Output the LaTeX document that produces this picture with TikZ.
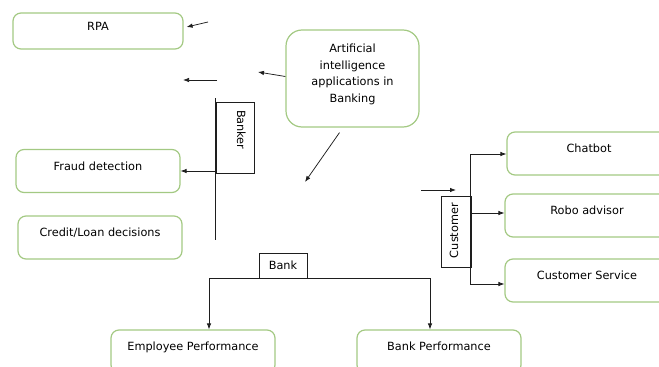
\documentclass[tikz,border=0pt]{standalone}
\usepackage{fontspec}
\setmainfont{DejaVu Sans}
\usetikzlibrary{arrows.meta}
\definecolor{appgreen}{RGB}{163,201,131}
\definecolor{linegray}{RGB}{30,30,30}
\begin{document}
\begin{tikzpicture}[x=1pt, y=-1pt, >={Latex[length=6pt,width=4.5pt]}, line width=0.75pt, draw=linegray,
  every node/.style={font=\fontsize{11.3}{16.5}\selectfont, text=black},
  app node/.style={draw=appgreen, line width=1.2pt, rounded corners=8pt, minimum width=164pt, minimum height=43pt, inner sep=0pt, text height=8pt, text depth=10pt},
  role node/.style={draw=linegray, line width=0.9pt, minimum width=71pt, inner xsep=8pt, text width=55pt, align=left, text height=8pt}]
\useasboundingbox (0,0) rectangle (659,367);
\clip (0,0) rectangle (659,367);
% applications
\node [app node, minimum width=170pt, minimum height=36pt](rpa) at (98,31) {RPA};
\node [app node](fraud) at (98,171) {Fraud detection};
\node [app node](credit) at (100,237.5) {Credit/Loan decisions};
\node [app node](emp) at (193,351.5) {Employee Performance};
\node [app node](bperf) at (439,351.5) {Bank Performance};
\node [app node](chat) at (589,153.5) {Chatbot};
\node [app node](robo) at (587,215.5) {Robo advisor};
\node [app node](cserv) at (587,280.5) {Customer Service};
\node [app node, minimum width=133pt, minimum height=97pt, rounded corners=16pt, align=center, text height=50pt, text depth=3pt](ai) at (352.5,78.5) {Artificial\\intelligence\\applications in\\Banking};
% roles
\node [role node, rotate=-90, minimum height=38pt, text depth=12pt](banker) at (235,137.5) {Banker};
\node [role node, rotate=90, minimum height=30pt, inner xsep=9pt, text width=53pt, text depth=4pt](customer) at (456,231.5) {Customer};
\node [draw=linegray, line width=0.9pt, minimum width=48pt, minimum height=25pt, inner sep=0pt](bank) at (283,265.5) {Bank};
% free ends
\coordinate (rpain) at (208,22);
\coordinate (mid1) at (217,80);
\coordinate (mid2) at (183,80);
\coordinate (aiout) at (258,72);
\coordinate (aidown) at (305,182);
\coordinate (btop) at (215,98);
\coordinate (bbot) at (215,240);
\coordinate (bfraud) at (215,171);
\coordinate (bl) at (209,278);
\coordinate (br) at (430,278);
\coordinate (ctop) at (470,154);
\coordinate (cmid) at (470,213);
\coordinate (cbot) at (470,284);
\coordinate (cin1) at (421,190);
\coordinate (cin2) at (456,190);
\draw[->] (rpain) -- ([xshift=3pt,yshift=4pt]rpa.east);
\draw[->] (mid1) -- (mid2);
\draw[->] ([yshift=2pt]ai.west) -- (aiout);
\draw[->] ([shift={(-13,5)}]ai.south) -- (aidown);
\draw (btop) -- (bbot);
\draw[->] (bfraud) -- (bfraud -| fraud.east);
\draw (bl) -- (br);
\path[->]
    (bl) edge (bl |- emp.north)
    (br) edge (br |- bperf.north)
    ;
\draw (ctop) -- (cbot);
\path[->]
    (ctop) edge (ctop -| chat.west)
    (cmid) edge (cmid -| robo.west)
    (cbot) edge (cbot -| cserv.west)
    (cin1) edge (cin2)
    ;
\end{tikzpicture}
\end{document}
